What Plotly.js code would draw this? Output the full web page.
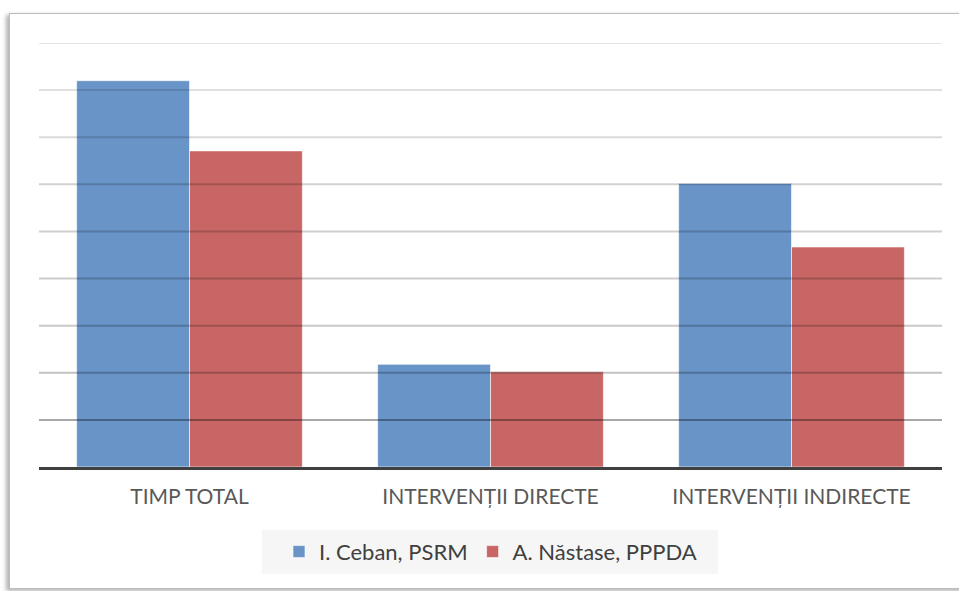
<!DOCTYPE html>
<html>
<head>
<meta charset="utf-8">
<script src="https://cdn.plot.ly/plotly-3.0.1.min.js"></script>
<style>
  html, body { margin: 0; padding: 0; background: #ffffff; width: 959px; height: 591px; overflow: hidden; }
  #frame { position: absolute; left: 9px; top: 13px; width: 970px; height: 574px;
           border: 1.5px solid #bcbcbc; box-shadow: -3px 2px 4px rgba(0,0,0,0.3); background: #fff; }
  #chart { position: absolute; left: 0; top: 0; width: 959px; height: 591px; }
</style>
</head>
<body>
<div id="frame"></div>
<div id="chart"></div>
<script>
const categories = ["TIMP TOTAL", "INTERVENȚII DIRECTE", "INTERVENȚII INDIRECTE"];
const cebanValues = [8.2, 2.18, 6.02];
const nastaseValues = [6.71, 2.02, 4.67];
const seriesNames = ["I. Ceban, PSRM", "A. Năstase, PPPDA"];
const gridValues = [1, 2, 3, 4, 5, 6, 7, 8, 9];
const gridAlphas = [0.34, 0.24, 0.21, 0.2, 0.19, 0.18, 0.15, 0.12, 0.1];

const traces = [
  { type: "bar", x: categories, y: cebanValues, name: seriesNames[0],
    marker: { color: "#6894c7", line: { color: "rgba(255,255,255,0.6)", width: 1 } },
    hoverinfo: "none" },
  { type: "bar", x: categories, y: nastaseValues, name: seriesNames[1],
    marker: { color: "#c76664", line: { color: "rgba(255,255,255,0.6)", width: 1 } },
    hoverinfo: "none" }
];

const shapes = gridValues.map((v, i) => ({
  type: "line", xref: "paper", yref: "y", x0: 0, x1: 1, y0: v, y1: v,
  line: { color: "rgba(0,0,0," + gridAlphas[i] + ")", width: 2 }, layer: "above"
}));
shapes.unshift({
  type: "rect", xref: "paper", yref: "paper", x0: 0.247, x1: 0.752, y0: -0.252, y1: -0.1486,
  fillcolor: "#f6f6f6", line: { width: 0 }, layer: "below"
});

const layout = {
  width: 959, height: 591,
  margin: { l: 39, r: 17, t: 43, b: 124 },
  paper_bgcolor: "rgba(0,0,0,0)", plot_bgcolor: "rgba(0,0,0,0)",
  barmode: "group", bargap: 0.25, bargroupgap: 0,
  font: { family: "Lato, 'Open Sans', sans-serif", color: "#595959" },
  xaxis: { showline: true, linecolor: "#404040", linewidth: 3, ticks: "",
           tickfont: { size: 21, color: "#595959" }, ticklabelstandoff: 9, fixedrange: true },
  yaxis: { range: [0, 9], showgrid: false, zeroline: false, showticklabels: false,
           ticks: "", fixedrange: true },
  legend: { orientation: "h", x: 0.5, xanchor: "center", y: -0.2, yanchor: "middle",
            bgcolor: "rgba(0,0,0,0)", font: { size: 22, color: "#404040" },
            itemwidth: 30, tracegroupgap: 0 },
  showlegend: true,
  shapes: shapes
};

Plotly.newPlot("chart", traces, layout, { displayModeBar: false, staticPlot: true });
</script>
</body>
</html>
